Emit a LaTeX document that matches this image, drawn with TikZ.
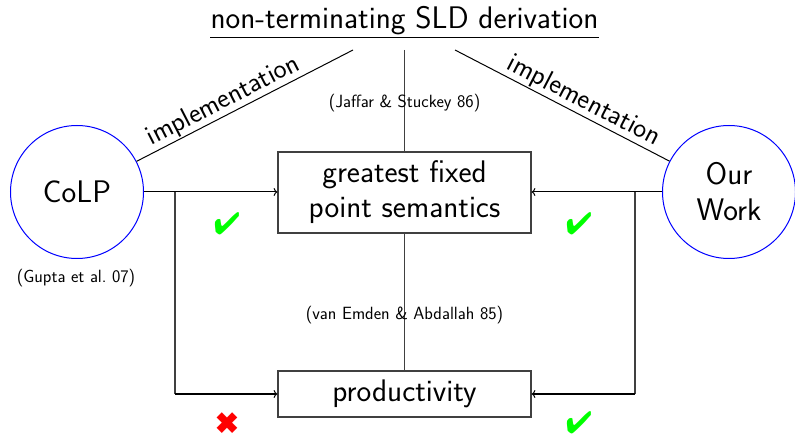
\documentclass[tikz,border=0pt]{standalone}
\usepackage{pifont}
\usetikzlibrary{arrows.meta,calc}
\begin{document}
\begin{tikzpicture}[x=1pt,y=-1pt,
  big/.style={font=\sffamily\fontsize{31.2}{35}\selectfont},
  impl/.style={font=\sffamily\fontsize{27.8}{32}\selectfont},
  small/.style={font=\sffamily\fontsize{17.7}{21}\selectfont},
  circ/.style={circle,draw=blue,line width=1pt,minimum size=133pt,inner sep=0pt,big,align=center},
  boxn/.style={draw=black!75,line width=1.1pt,minimum width=253pt,inner sep=0pt,big,align=center},
  link/.style={black!75,line width=1.1pt},
  diag/.style={black,line width=1pt},
  arr/.style={->,black,line width=1pt},
  okmark/.style={text=green,font=\fontsize{31}{34}\selectfont,inner sep=0pt},
  nomark/.style={text=red,font=\fontsize{30}{34}\selectfont,inner sep=0pt}]
\useasboundingbox (0,0) rectangle (795,435);

\node[big,inner sep=0pt,anchor=base] (title) at (404.5,29) {non-terminating SLD derivation};
\draw[diag] ($(title.base west)+(0,9)$) -- ($(title.base east)+(0,9)$);

\coordinate (tl) at (353,50);
\coordinate (tm) at (404.5,50);
\coordinate (tr) at (455,50);

\node[circ,font=\sffamily\fontsize{31.2}{36}\selectfont] (colp) at (77,192) {CoLP};
\node[circ,font=\sffamily\fontsize{31.2}{36}\selectfont] (our) at (729,192) {Our\\Work};
\node[boxn,minimum height=81pt] (gfp) at (404.5,192.5) {greatest fixed\\point semantics};
\node[boxn,minimum height=46pt] (prod) at (404.5,394) {productivity};

\draw[diag] (colp) -- node[pos=0.43,sloped,above,inner sep=1pt,impl] (imp1) {implementation} (tl);
\draw[diag] (our) -- node[pos=0.43,sloped,above,inner sep=1pt,impl] (imp2) {implementation} (tr);

\draw[link] (tm) -- (gfp.north);
\draw[link] (gfp.south) -- (prod.north);

\node[small] (js) at (404.5,103) {(Jaffar \& Stuckey 86)};
\node[small] (ve) at (404.5,315) {(van Emden \& Abdallah 85)};
\node[small] (gu) at (76,278) {(Gupta et al.\ 07)};

\coordinate (lj) at (175,192);
\coordinate (lb) at (175,394);
\coordinate (rj) at (635,192);
\coordinate (rb) at (635,394);

\draw[arr] (colp.east) -- (colp.east -| gfp.west);
\draw[link] (lj) -- (lb);
\draw[arr] (lb) -- (prod.west);
\draw[arr] (our.west) -- (our.west -| gfp.east);
\draw[link] (rj) -- (rb);
\draw[arr] (rb) -- (prod.east);

\node[okmark] (c1) at (227,224) {\ding{52}};
\node[okmark] (c2) at (579,224) {\ding{52}};
\node[okmark] (c3) at (579,423) {\ding{52}};
\node[nomark] (x1) at (227,423) {\ding{54}};
\end{tikzpicture}
\end{document}
